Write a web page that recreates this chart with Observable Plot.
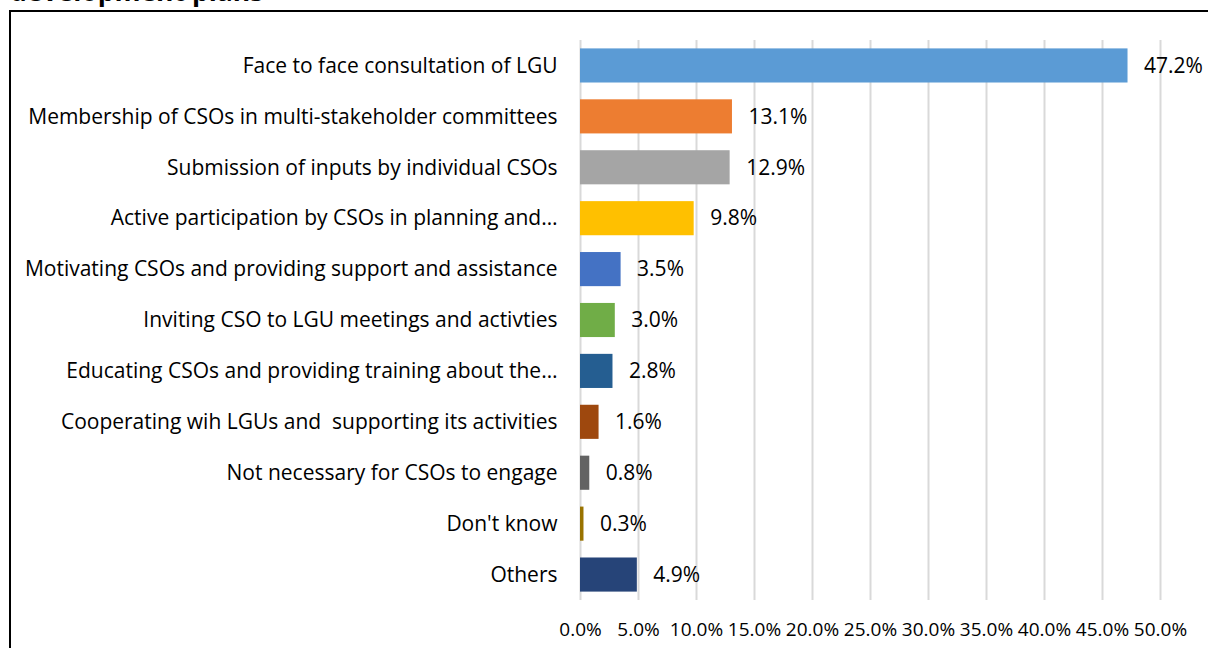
<!DOCTYPE html>
<html>
<head>
<meta charset="utf-8">
<script src="https://cdn.jsdelivr.net/npm/d3@7"></script>
<script src="https://cdn.jsdelivr.net/npm/@observablehq/plot@0.6"></script>
<style>
  html, body { margin: 0; padding: 0; background: #fff; width: 1208px; height: 648px; overflow: hidden; }
  #title { position: absolute; left: 10px; top: -27px; font: bold 26.5px "Open Sans", sans-serif; color: #000; white-space: nowrap; }
  #box { position: absolute; left: 9px; top: 10px; width: 1400px; height: 800px; border: 2px solid #000; box-sizing: border-box; }
  #chart { position: absolute; left: 0; top: 0; }
</style>
</head>
<body>
<div id="title">development plans</div>
<div id="box"></div>
<div id="chart"></div>
<script>
const categories = [
  "Face to face consultation of LGU",
  "Membership of CSOs in multi-stakeholder committees",
  "Submission of inputs by individual CSOs",
  "Active participation by CSOs in planning and…",
  "Motivating CSOs and providing support and assistance",
  "Inviting CSO to LGU meetings and activties",
  "Educating CSOs and providing training about the…",
  "Cooperating wih LGUs and  supporting its activities",
  "Not necessary for CSOs to engage",
  "Don't know",
  "Others"
];
const values = [47.2, 13.1, 12.9, 9.8, 3.5, 3.0, 2.8, 1.6, 0.8, 0.3, 4.9];
const colors = ["#5B9BD5", "#ED7D31", "#A5A5A5", "#FFC000", "#4472C4", "#70AD47", "#255E91", "#9E480E", "#636363", "#997300", "#264478"];
const xTicks = [0, 5, 10, 15, 20, 25, 30, 35, 40, 45, 50];

const data = categories.map((c, i) => ({category: c, value: values[i], color: colors[i]}));

const chart = Plot.plot({
  width: 1208,
  height: 648,
  marginLeft: 580,
  marginRight: 48,
  marginTop: 40,
  marginBottom: 48,
  style: {fontFamily: "'Open Sans', sans-serif", fontSize: "21px", color: "#000", background: "transparent"},
  x: {domain: [0, 50], ticks: xTicks, tickFormat: d => d.toFixed(1) + "%", label: null},
  y: {domain: categories, label: null, paddingInner: 0.33, paddingOuter: 0.165, round: false},
  marks: [
    Plot.gridX(xTicks, {stroke: "#D9D9D9", strokeWidth: 2, strokeOpacity: 1}),
    Plot.barX(data, {x: "value", y: "category", fill: d => d.color}),
    Plot.text(data, {x: "value", y: "category", text: d => d.value.toFixed(1) + "%", textAnchor: "start", dx: 16, fontSize: 21, fill: "#000"}),
    Plot.axisY({tickSize: 0, tickPadding: 23, fontSize: 21}),
    Plot.axisX(xTicks, {tickSize: 0, tickPadding: 22, fontSize: 19, tickFormat: d => d.toFixed(1) + "%"})
  ]
});
document.getElementById("chart").appendChild(chart);
</script>
</body>
</html>
